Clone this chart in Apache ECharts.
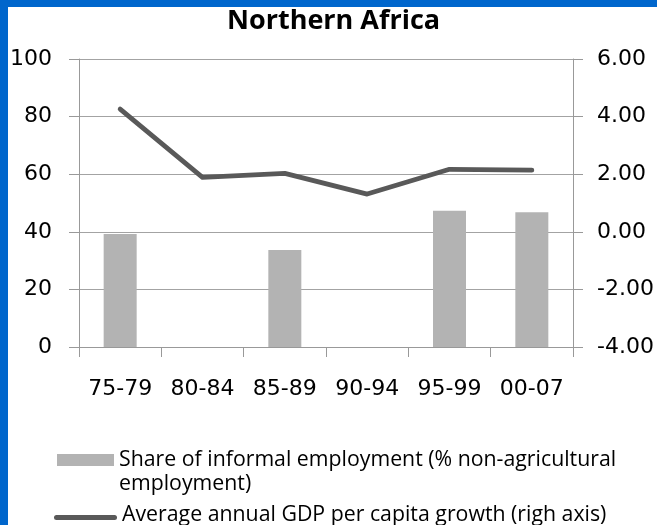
<!DOCTYPE html>
<html>
<head>
<meta charset="utf-8">
<script src="https://cdn.jsdelivr.net/npm/echarts@6/dist/echarts.min.js"></script>
<style>
html,body{margin:0;padding:0;background:#fff;}
#chart{width:657px;height:525px;}
</style>
</head>
<body>
<div id="chart"></div>
<script>
var categories = ['75-79', '80-84', '85-89', '90-94', '95-99', '00-07'];
var informalShare = [39.2, null, 33.7, null, 47.3, 46.8];
var gdpGrowth = [4.26, 1.89, 2.03, 1.31, 2.17, 2.14];
var leftTicks = [0, 20, 40, 60, 80, 100];
var rightTicks = [-4, -2, 0, 2, 4, 6];
var barName = 'Share of informal employment (% non-agricultural employment)';
var lineName = 'Average annual GDP per capita growth (righ axis)';

var chart = echarts.init(document.getElementById('chart'));
var axisFont = 'DejaVu Sans';
var option = {
  backgroundColor: '#ffffff',
  animation: false,
  graphic: [
    {type: 'rect', shape: {x: 0, y: 0, width: 8, height: 525}, style: {fill: '#0066cc'}, z: 100},
    {type: 'rect', shape: {x: 0, y: 0, width: 657, height: 7}, style: {fill: '#0066cc'}, z: 100}
  ],
  title: {
    text: 'Northern Africa',
    left: 227,
    top: 8,
    padding: 0,
    textStyle: {fontFamily: 'Open Sans', fontWeight: 'bold', fontSize: 27, color: '#000'}
  },
  legend: [
    {
      data: [{name: barName, icon: 'path://M0,0L0,0M0,6H57V18H0ZM57,48L57,48'}],
      left: 57,
      top: 448,
      padding: 0,
      itemWidth: 57,
      itemHeight: 48,
      formatter: function (n) { return n.replace(' employment)', '\nemployment)'); },
      textStyle: {fontFamily: 'Open Sans', fontSize: 21.3, color: '#000', lineHeight: 24}
    },
    {
      data: [{name: lineName, icon: 'path://M0,0L0,0M2.5,6H60.5A2.5,2.5,0,0,1,60.5,11H2.5A2.5,2.5,0,0,1,2.5,6ZM63,12L63,12'}],
      left: 54,
      top: 503,
      padding: 0,
      itemWidth: 63,
      itemHeight: 12,
      textStyle: {fontFamily: 'Open Sans', fontSize: 21.3, color: '#000', lineHeight: 24}
    }
  ],
  grid: {left: 79, right: 84, top: 59, bottom: 178},
  xAxis: {
    type: 'category',
    data: categories,
    boundaryGap: true,
    axisLine: {lineStyle: {color: '#999999', width: 1}},
    axisTick: {show: true, length: 10, lineStyle: {color: '#999999'}},
    axisLabel: {interval: 0, margin: 31, fontFamily: axisFont, fontSize: 22, color: '#000'}
  },
  yAxis: [
    {
      type: 'value',
      min: leftTicks[0],
      max: leftTicks[leftTicks.length - 1],
      interval: 20,
      position: 'left',
      axisLine: {show: true, lineStyle: {color: '#999999'}},
      axisTick: {show: true, length: 10, lineStyle: {color: '#999999'}},
      splitLine: {show: true, lineStyle: {color: '#a3a3a3', width: 1}},
      axisLabel: {margin: 27, fontFamily: axisFont, fontSize: 22, color: '#000'}
    },
    {
      type: 'value',
      min: rightTicks[0],
      max: rightTicks[rightTicks.length - 1],
      interval: 2,
      position: 'right',
      axisLine: {show: true, lineStyle: {color: '#999999'}},
      axisTick: {show: true, length: 10, lineStyle: {color: '#999999'}},
      splitLine: {show: false},
      axisLabel: {margin: 24, fontFamily: axisFont, fontSize: 22, color: '#000',
        formatter: function (v) { return v.toFixed(2); }}
    }
  ],
  series: [
    {
      name: barName,
      type: 'bar',
      data: informalShare,
      barWidth: 33,
      itemStyle: {color: '#b3b3b3'},
      z: 2
    },
    {
      name: lineName,
      type: 'line',
      yAxisIndex: 1,
      data: gdpGrowth,
      symbol: 'none',
      lineStyle: {color: '#595959', width: 4.8, cap: 'round', join: 'round'},
      itemStyle: {color: '#595959'},
      z: 3
    }
  ]
};
chart.setOption(option);
</script>
</body>
</html>
